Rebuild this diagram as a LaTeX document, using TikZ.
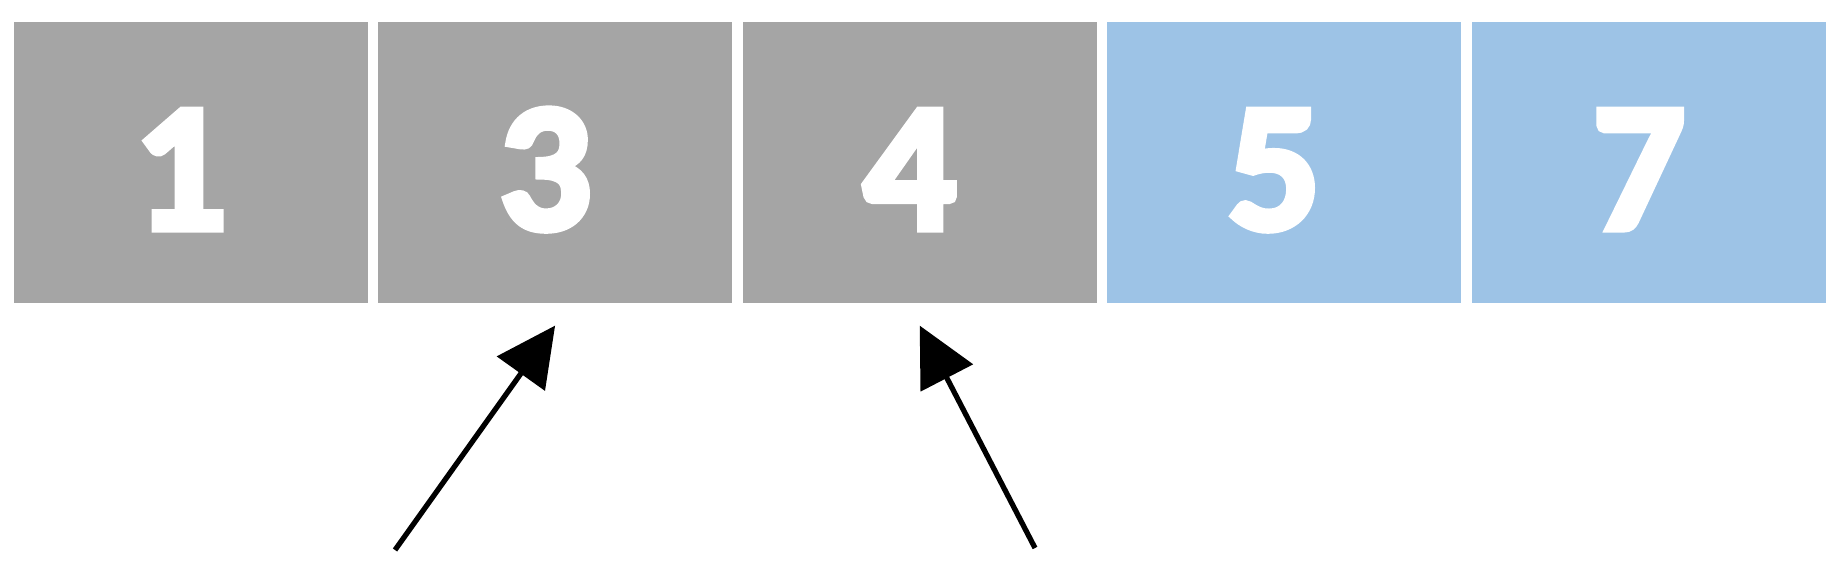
\documentclass[tikz,border=0pt]{standalone}
\usepackage{fontspec}
\setmainfont{Carlito}
\newfontfamily\cellfont[BoldFeatures={FakeBold=4}]{Carlito}
\usetikzlibrary{arrows.meta,positioning}

\definecolor{cellgray}{HTML}{A5A5A5}
\definecolor{cellblue}{HTML}{9DC3E6}

\tikzset{
  cell/.style={minimum width=3.54cm, minimum height=2.81cm, inner sep=0pt,
    text=white, font=\cellfont\bfseries\fontsize{52}{58}\selectfont,
    text height=1.33cm, text depth=0cm, execute at begin node=\kern-2mm},
  pointer/.style={-{Triangle[length=5.9mm,width=5.8mm]}, line width=1.5pt, black}
}

\begin{document}
\begin{tikzpicture}[scale=1]

  \def\pitch{3.646}
  \def\rowy{3.976}
  \def\gap{-2.2mm} % space between tip and cell

  \useasboundingbox (0,0) rectangle (18.39,5.6);

  \node[cell, fill=cellgray] (c1) at (1.905,\rowy) {1};
  \node[cell, fill=cellgray] (c3) at (1.905 + \pitch,\rowy) {3};
  \node[cell, fill=cellgray] (c4) at (1.905 + 2 * \pitch,\rowy) {4};
  \node[cell, fill=cellblue] (c5) at (1.905 + 3 * \pitch,\rowy) {5};
  \node[cell, fill=cellblue] (c7) at (1.905 + 4 * \pitch,\rowy) {7};

  \coordinate (lo) at (3.95,0.10);
  \coordinate (hi) at (10.35,0.12);

  \draw[pointer] (lo) -- ([yshift=\gap]c3.south);
  \draw[pointer] (hi) -- ([yshift=\gap]c4.south);

\end{tikzpicture}
\end{document}
